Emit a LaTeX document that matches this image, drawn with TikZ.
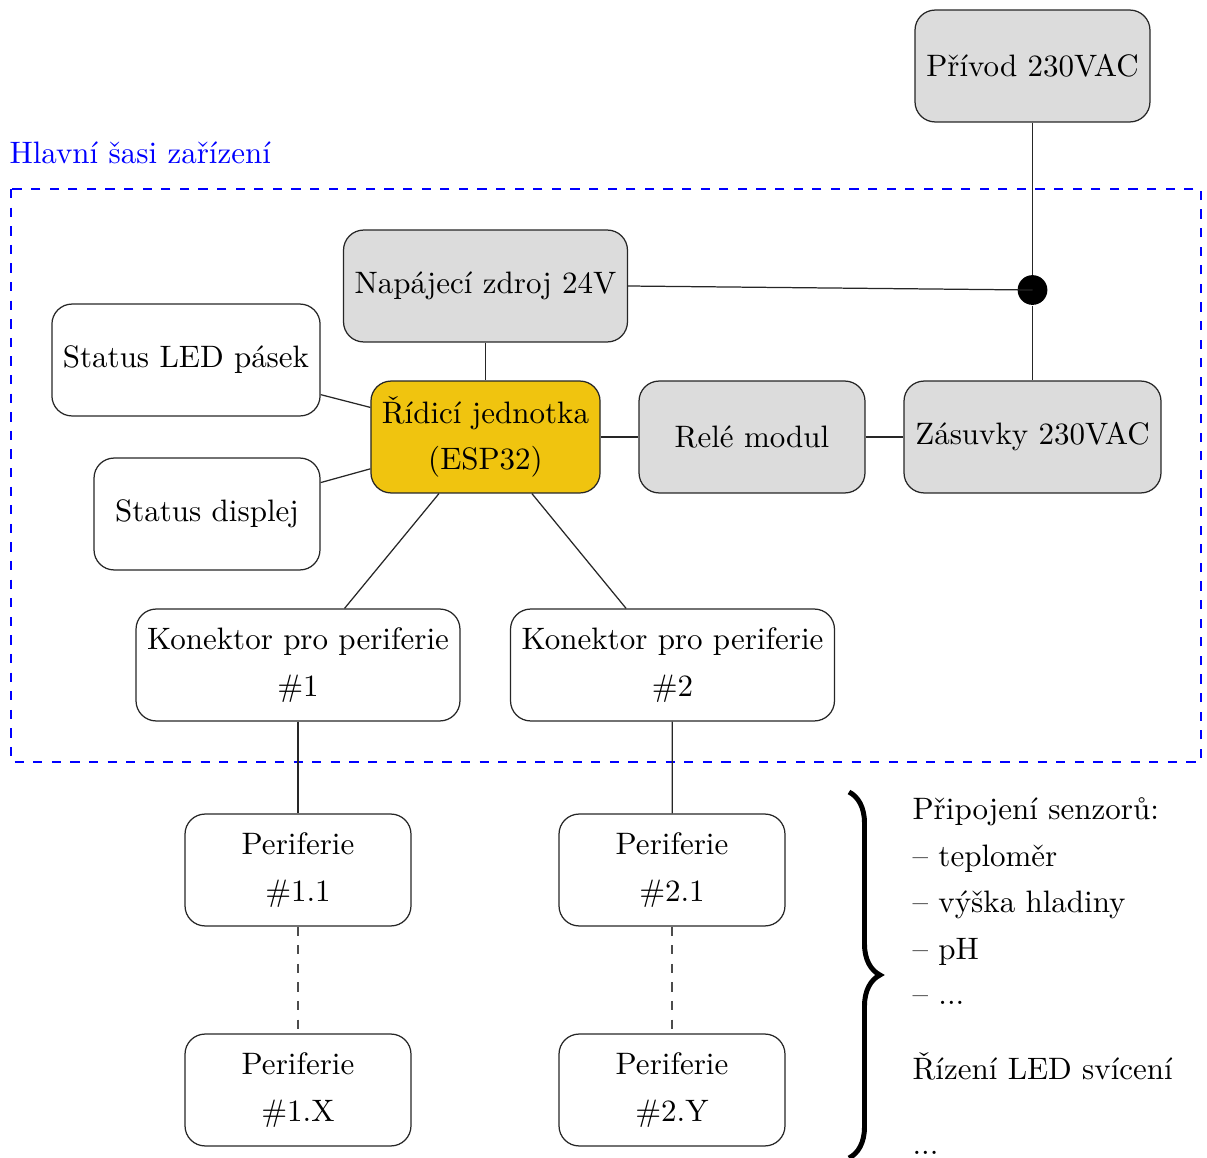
\documentclass[tikz,border=0pt]{standalone}
\usepackage{fontspec}
\usetikzlibrary{decorations.pathreplacing}
\definecolor{boxgray}{RGB}{220,220,220}
\definecolor{espgold}{RGB}{240,196,15}
\begin{document}
\begin{tikzpicture}[x=0.32258pt,y=-0.32258pt,
  box/.style={draw=black!85, rounded corners=6.5pt, minimum height=36.1pt, inner sep=3.33pt, align=center, font=\fontsize{10pt}{15pt}\selectfont},
  graybox/.style={box, fill=boxgray},
  conn/.style={draw=black!85, line width=0.4pt},
  dconn/.style={draw=black!70, dashed, line width=0.4pt},
  txt/.style={anchor=base west, inner sep=0pt, font=\fontsize{10pt}{15pt}\selectfont}]
\useasboundingbox (0,0) rectangle (1207,1158);

% frame
\draw[blue, dashed, line width=0.4pt] (11,189) rectangle (1201,762);
\node[txt, text=blue] (lbl) at (9,163) {Hlavní šasi zařízení};

% nodes
\node[graybox, minimum width=75.8pt] (privod) at (1032.5,66) {Přívod 230VAC};
\node[graybox, minimum width=91.6pt] (psu) at (485.5,286) {Napájecí zdroj 24V};
\node[box, minimum width=86.5pt] (led) at (186,360) {Status LED pásek};
\node[box, fill=espgold, minimum width=73.9pt] (esp) at (485.5,437) {Řídicí jednotka\\(ESP32)};
\node[box, minimum width=72.9pt] (disp) at (207,514) {Status displej};
\node[graybox, minimum width=72.9pt] (rele) at (752,437) {Relé modul};
\node[graybox, minimum width=82.9pt] (zas) at (1032.5,437) {Zásuvky 230VAC};
\node[box, minimum width=104.5pt] (k1) at (298,665) {Konektor pro periferie\\\#1};
\node[box, minimum width=104.5pt] (k2) at (672.5,665) {Konektor pro periferie\\\#2};
\node[box, minimum width=72.9pt] (p11) at (298,870) {Periferie\\\#1.1};
\node[box, minimum width=72.9pt] (p21) at (672,870) {Periferie\\\#2.1};
\node[box, minimum width=72.9pt] (p1x) at (298,1090) {Periferie\\\#1.X};
\node[box, minimum width=72.9pt] (p2y) at (672,1090) {Periferie\\\#2.Y};
\node[circle, fill=black, inner sep=0pt, minimum size=9.6pt] (dot) at (1032.5,290) {};

% connectors
\draw[conn] (privod) -- (dot);
\draw[conn] (dot) -- (zas);
\draw[conn] (psu.east) -- (dot.center);
\draw[conn] (psu) -- (esp);
\draw[conn] (led) -- (esp);
\draw[conn] (disp) -- (esp);
\draw[conn] (esp) -- (rele);
\draw[conn] (rele) -- (zas);
\draw[conn] (esp) -- (k1);
\draw[conn] (esp) -- (k2);
\draw[conn] (k1) -- (p11);
\draw[conn] (k2) -- (p21);
\draw[dconn] (p11) -- (p1x);
\draw[dconn] (p21) -- (p2y);

% brace
\coordinate (bt) at (849,792);
\coordinate (bb) at (849,1158);
\draw[decorate, decoration={brace, amplitude=10pt}, line width=1.6pt] (bt) -- (bb);

% right text
\node[txt] (t1) at (912,819) {Připojení senzorů:};
\node[txt] (t2) at (912,866) {– teploměr};
\node[txt] (t3) at (912,912) {– výška hladiny};
\node[txt] (t4) at (912,959) {– pH};
\node[txt] (t5) at (912,1004) {– ...};
\node[txt] (t6) at (912,1079) {Řízení LED svícení};
\node[txt] (t7) at (912,1154) {...};
\end{tikzpicture}
\end{document}
